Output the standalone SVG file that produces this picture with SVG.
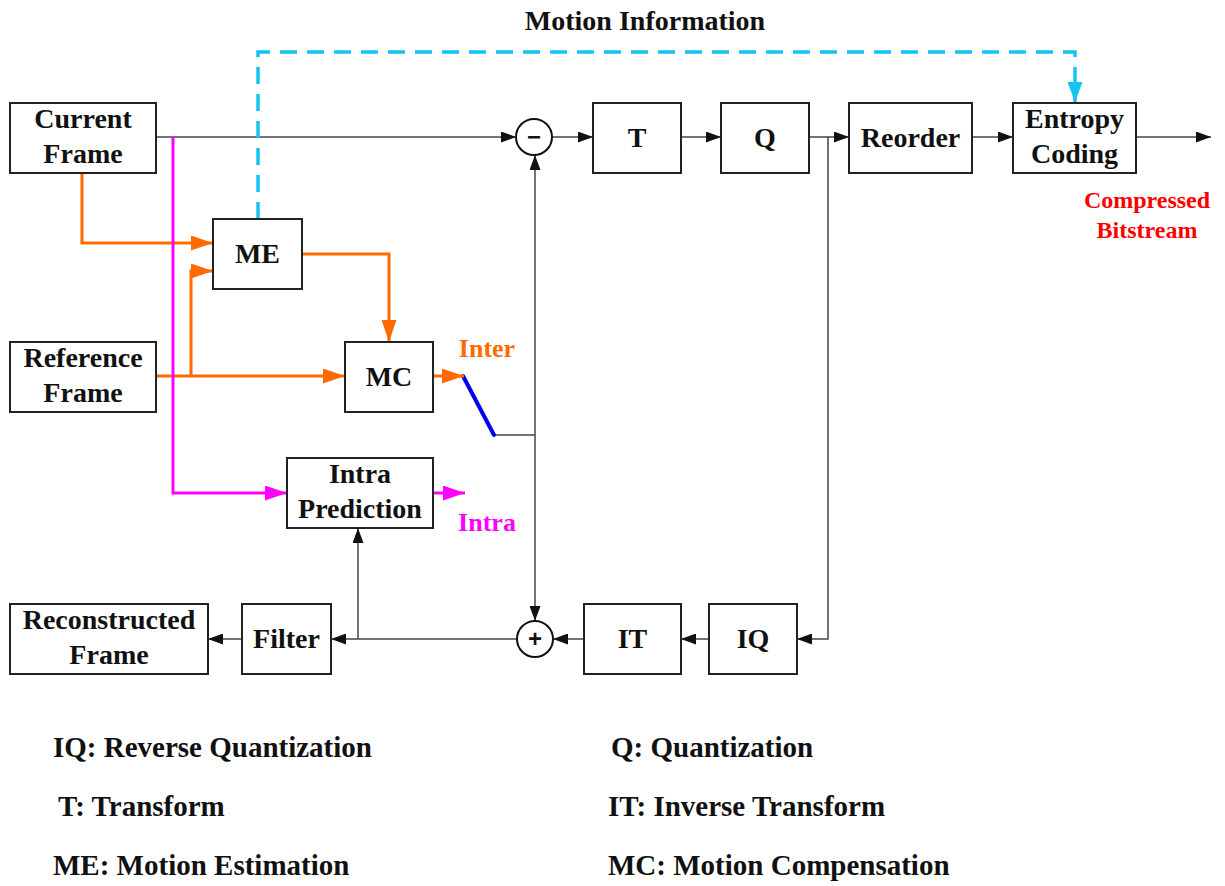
<svg xmlns="http://www.w3.org/2000/svg" width="1225" height="886" viewBox="0 0 1225 886">
  <style>
    .box { fill: #fff; stroke: #222; stroke-width: 2; }
    .lbl { font-family: "Liberation Serif", "Times New Roman", serif; font-weight: bold; font-size: 28px; fill: #111; text-anchor: middle; }
    .legend { font-family: "Liberation Serif", "Times New Roman", serif; font-weight: bold; font-size: 29px; fill: #111; }
    .wire { fill: none; stroke: #444; stroke-width: 1.5; }
    .orange { fill: none; stroke: #FF6A00; stroke-width: 3; }
    .magenta { fill: none; stroke: #FF00FF; stroke-width: 3; }
    .cyan { fill: none; stroke: #14C3F0; stroke-width: 3.5; stroke-dasharray: 17 10; }
    .sum { fill: #fff; stroke: #111; stroke-width: 2; }
    .sign { font-family: "Liberation Sans", Arial, sans-serif; font-weight: bold; font-size: 24px; fill: #111; text-anchor: middle; }
  </style>
  <defs>
    <marker id="arrBlack" markerUnits="userSpaceOnUse" markerWidth="15" markerHeight="11" refX="15" refY="5.5" orient="auto">
      <path d="M0,0 L15,5.5 L0,11 z" fill="#111"/>
    </marker>
    <marker id="arrOrange" markerUnits="userSpaceOnUse" markerWidth="22" markerHeight="15" refX="22" refY="7.5" orient="auto">
      <path d="M0,0 L22,7.5 L0,15 z" fill="#FF6A00"/>
    </marker>
    <marker id="arrMagenta" markerUnits="userSpaceOnUse" markerWidth="22" markerHeight="15" refX="22" refY="7.5" orient="auto">
      <path d="M0,0 L22,7.5 L0,15 z" fill="#FF00FF"/>
    </marker>
    <marker id="arrCyan" markerUnits="userSpaceOnUse" markerWidth="20" markerHeight="15" refX="20" refY="7.5" orient="auto">
      <path d="M0,0 L20,7.5 L0,15 z" fill="#14C3F0"/>
    </marker>
  </defs>

  <rect width="1225" height="886" fill="#fff"/>

  <!-- connectors -->
  <g id="connectors">
    <!-- forward path -->
    <line class="wire" x1="156" y1="137" x2="516" y2="137" marker-end="url(#arrBlack)"/>
    <line class="wire" x1="552" y1="137" x2="593" y2="137" marker-end="url(#arrBlack)"/>
    <line class="wire" x1="681" y1="137" x2="721" y2="137" marker-end="url(#arrBlack)"/>
    <line class="wire" x1="809" y1="137" x2="849" y2="137" marker-end="url(#arrBlack)"/>
    <line class="wire" x1="972" y1="137" x2="1013" y2="137" marker-end="url(#arrBlack)"/>
    <line class="wire" x1="1136" y1="137" x2="1211" y2="137" marker-end="url(#arrBlack)"/>
    <!-- reconstruction loop -->
    <polyline class="wire" points="828,137 828,639 797,639" marker-end="url(#arrBlack)"/>
    <line class="wire" x1="709" y1="639" x2="681" y2="639" marker-end="url(#arrBlack)"/>
    <line class="wire" x1="584" y1="639" x2="553" y2="639" marker-end="url(#arrBlack)"/>
    <line class="wire" x1="517" y1="639" x2="331" y2="639" marker-end="url(#arrBlack)"/>
    <line class="wire" x1="242" y1="639" x2="208" y2="639" marker-end="url(#arrBlack)"/>
    <line class="wire" x1="358" y1="639" x2="358" y2="528" marker-end="url(#arrBlack)"/>
    <!-- prediction feed -->
    <line class="wire" x1="494" y1="435" x2="535" y2="435"/>
    <line class="wire" x1="535" y1="435" x2="535" y2="155" marker-end="url(#arrBlack)"/>
    <line class="wire" x1="535" y1="435" x2="535" y2="621" marker-end="url(#arrBlack)"/>
    <!-- inter/intra switch -->
    <line x1="463" y1="376" x2="494" y2="435" stroke="#0000EE" stroke-width="4" stroke-linecap="round"/>
    <!-- motion paths -->
    <polyline class="orange" points="82,173 82,243 213,243" marker-end="url(#arrOrange)"/>
    <line class="orange" x1="156" y1="376" x2="345" y2="376" marker-end="url(#arrOrange)"/>
    <polyline class="orange" points="191,376 191,271 213,271" marker-end="url(#arrOrange)"/>
    <polyline class="orange" points="302,254 389,254 389,342" marker-end="url(#arrOrange)"/>
    <line class="orange" x1="433" y1="376" x2="464" y2="376" marker-end="url(#arrOrange)"/>
    <!-- intra paths -->
    <polyline class="magenta" points="173,137 173,493 287,493" marker-end="url(#arrMagenta)"/>
    <line class="magenta" x1="433" y1="493" x2="465" y2="493" marker-end="url(#arrMagenta)"/>
    <!-- motion information -->
    <polyline class="cyan" points="258,219 258,52 1075,52 1075,102" marker-end="url(#arrCyan)"/>
  </g>

  <!-- summing junctions -->
  <g id="sub">
    <circle class="sum" cx="534" cy="137" r="18"/>
    <text class="sign" x="534" y="145">−</text>
  </g>
  <g id="add">
    <circle class="sum" cx="535" cy="639" r="18"/>
    <text class="sign" x="535" y="647">+</text>
  </g>

  <!-- blocks -->
  <g id="current-frame">
    <rect class="box" x="10" y="103" width="146" height="70"/>
    <text class="lbl" x="83" y="128">Current</text>
    <text class="lbl" x="83" y="163">Frame</text>
  </g>
  <g id="me">
    <rect class="box" x="213" y="219" width="89" height="70"/>
    <text class="lbl" x="257.5" y="263">ME</text>
  </g>
  <g id="reference-frame">
    <rect class="box" x="10" y="342" width="146" height="70"/>
    <text class="lbl" x="83" y="367">Reference</text>
    <text class="lbl" x="83" y="402">Frame</text>
  </g>
  <g id="mc">
    <rect class="box" x="345" y="342" width="88" height="70"/>
    <text class="lbl" x="389" y="386">MC</text>
  </g>
  <g id="intra-prediction">
    <rect class="box" x="287" y="458" width="146" height="70"/>
    <text class="lbl" x="360" y="483">Intra</text>
    <text class="lbl" x="360" y="518">Prediction</text>
  </g>
  <g id="reconstructed-frame">
    <rect class="box" x="10" y="604" width="198" height="70"/>
    <text class="lbl" x="109" y="629">Reconstructed</text>
    <text class="lbl" x="109" y="664">Frame</text>
  </g>
  <g id="filter">
    <rect class="box" x="242" y="604" width="89" height="70"/>
    <text class="lbl" x="286.5" y="648">Filter</text>
  </g>
  <g id="it">
    <rect class="box" x="584" y="604" width="97" height="70"/>
    <text class="lbl" x="632.5" y="648">IT</text>
  </g>
  <g id="iq">
    <rect class="box" x="709" y="604" width="88" height="70"/>
    <text class="lbl" x="753" y="648">IQ</text>
  </g>
  <g id="t">
    <rect class="box" x="593" y="103" width="88" height="70"/>
    <text class="lbl" x="637" y="147">T</text>
  </g>
  <g id="q">
    <rect class="box" x="721" y="103" width="88" height="70"/>
    <text class="lbl" x="765" y="147">Q</text>
  </g>
  <g id="reorder">
    <rect class="box" x="849" y="103" width="123" height="70"/>
    <text class="lbl" x="910.5" y="147">Reorder</text>
  </g>
  <g id="entropy-coding">
    <rect class="box" x="1013" y="103" width="123" height="70"/>
    <text class="lbl" x="1074.5" y="128">Entropy</text>
    <text class="lbl" x="1074.5" y="163">Coding</text>
  </g>

  <!-- annotations -->
  <g id="annotations">
    <text class="lbl" x="645" y="30">Motion Information</text>
    <text class="lbl" x="1147" y="208" style="font-size:24px;fill:#FF0000">Compressed</text>
    <text class="lbl" x="1147" y="238" style="font-size:24px;fill:#FF0000">Bitstream</text>
    <text class="lbl" x="487" y="357" style="font-size:26px;fill:#FF6A00">Inter</text>
    <text class="lbl" x="487" y="531" style="font-size:26px;fill:#FF00FF">Intra</text>
  </g>

  <!-- abbreviations -->
  <g id="legend">
    <text class="legend" x="53" y="757">IQ: Reverse Quantization</text>
    <text class="legend" x="58" y="816">T: Transform</text>
    <text class="legend" x="53" y="875">ME: Motion Estimation</text>
    <text class="legend" x="611" y="757">Q: Quantization</text>
    <text class="legend" x="608" y="816">IT: Inverse Transform</text>
    <text class="legend" x="608" y="875">MC: Motion Compensation</text>
  </g>
</svg>
